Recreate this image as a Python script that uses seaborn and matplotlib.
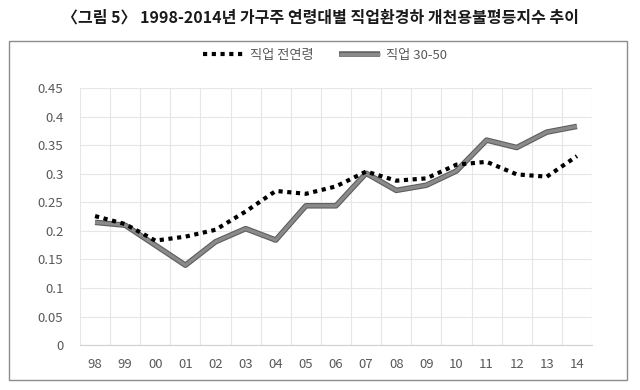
import matplotlib
matplotlib.use("Agg")
import matplotlib.pyplot as plt
import matplotlib.patheffects as pe
from matplotlib.patches import Rectangle
from matplotlib.ticker import FixedLocator, FuncFormatter
import pandas as pd
import seaborn as sns

years = ["98", "99", "00", "01", "02", "03", "04", "05", "06",
         "07", "08", "09", "10", "11", "12", "13", "14"]
all_ages = [0.226, 0.212, 0.183, 0.190, 0.202, 0.234, 0.270, 0.265, 0.278,
            0.304, 0.288, 0.292, 0.316, 0.321, 0.299, 0.295, 0.331]
age_30_50 = [0.215, 0.210, 0.175, 0.140, 0.181, 0.204, 0.184, 0.244, 0.244,
             0.301, 0.271, 0.280, 0.305, 0.359, 0.346, 0.373, 0.383]
yticks = [0, 0.05, 0.1, 0.15, 0.2, 0.25, 0.3, 0.35, 0.4, 0.45]

df = pd.DataFrame({"year": years, "all": all_ages, "mid": age_30_50})

sns.set_style("white")
plt.rcParams["font.family"] = ["Noto Sans CJK KR", "DejaVu Sans"]

fig = plt.figure(figsize=(6.4, 3.9), dpi=100)
ax = fig.add_axes([0.125, 0.115, 0.8, 0.659])

# chart frame
fig.patches.append(Rectangle((0.014, 0.026), 0.966, 0.869, transform=fig.transFigure,
                             fill=False, edgecolor="#8c8c8c", linewidth=1.0))

sns.lineplot(data=df, x="year", y="all", ax=ax, color="black", linewidth=3.0,
             label="직업 전연령", sort=False)
sns.lineplot(data=df, x="year", y="mid", ax=ax, color="#8a8a8a", linewidth=2.4,
             label="직업 30-50", sort=False)
l1, l2 = ax.lines[0], ax.lines[1]
l1.set_linestyle((0, (1.0, 1.1)))
l1.set_dash_capstyle("butt")
l2.set_solid_capstyle("butt")
l2.set_path_effects([pe.Stroke(linewidth=4.0, foreground="#5e5e5e"), pe.Normal()])
l2.set_zorder(2)
l1.set_zorder(3)

ax.set_xlim(-0.5, len(years) - 0.5)
ax.set_ylim(0, 0.45)
ax.yaxis.set_major_locator(FixedLocator(yticks))
ax.yaxis.set_major_formatter(FuncFormatter(lambda v, p: f"{v:g}"))
ax.xaxis.set_minor_locator(FixedLocator([i + 0.5 for i in range(-1, len(years))]))
ax.grid(True, axis="y", which="major", color="#e6e6e6", linewidth=0.8)
ax.grid(True, axis="x", which="minor", color="#e6e6e6", linewidth=0.8)
ax.grid(False, axis="x", which="major")
ax.set_axisbelow(True)
for s in ["top", "right", "left"]:
    ax.spines[s].set_visible(False)
ax.spines["bottom"].set_color("#d0d0d0")
ax.tick_params(axis="both", which="both", length=0, labelsize=9.5, colors="#595959")
ax.tick_params(axis="y", pad=12)
ax.tick_params(axis="x", pad=9)
ax.set_xlabel("")
ax.set_ylabel("")

leg = ax.legend(loc="center", bbox_to_anchor=(325 / 640, 1 - 55 / 390),
                bbox_transform=fig.transFigure,
                ncol=2, frameon=False, fontsize=9.5, handlelength=3.1, columnspacing=1.9,
                handletextpad=0.5)
for t in leg.get_texts():
    t.set_color("#595959")

fig.text(0.5, 1 - 18 / 390, "〈그림 5〉 1998-2014년 가구주 연령대별 직업환경하 개천용불평등지수 추이",
         ha="center", va="center", fontsize=11.5, fontweight="bold", color="#1a1a1a")

fig.savefig("out.png", dpi=100)
